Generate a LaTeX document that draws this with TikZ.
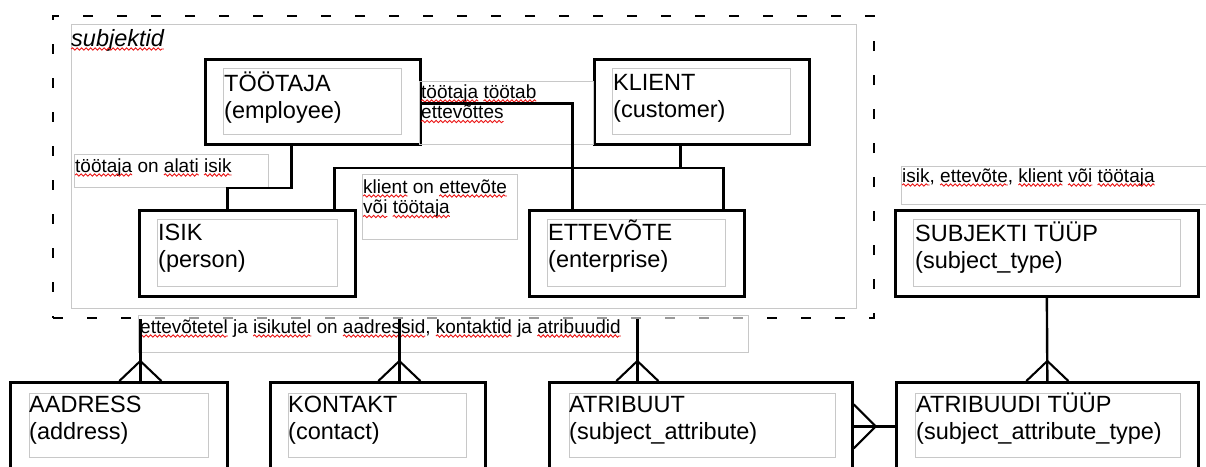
\documentclass[tikz,border=0pt]{standalone}
\usepackage{fontspec}
\setmainfont{Liberation Sans}
\usetikzlibrary{calc,decorations.pathmorphing}
\definecolor{frameGray}{RGB}{200,200,200}
\definecolor{waveRed}{RGB}{235,20,20}
\newcommand\spl[1]{\tikz[baseline=(sw.base)]{\node[inner sep=0pt,outer sep=0pt,anchor=base west] (sw) at (0,0) {#1};\draw[overlay,waveRed,line width=0.9pt,decorate,decoration={snake,segment length=4.5pt,amplitude=1.2pt}] ([yshift=-3pt]sw.base west) -- ([yshift=-3pt]sw.base east);}}
\newcommand\bigfont{\fontsize{23.5}{27.6}\selectfont}
\newcommand\smallfont{\fontsize{19}{20.5}\selectfont}
\tikzset{
  ent/.style={draw=black,line width=2.7pt,anchor=north west,inner sep=0pt},
  frm/.style={draw=frameGray,line width=1pt,anchor=north west,inner sep=0pt},
  etxt/.style={anchor=base west,inner sep=0pt,font=\bigfont,align=left},
  ltxt/.style={anchor=base west,inner sep=0pt,font=\smallfont,align=left},
  link/.style={draw=black,line width=2.4pt},
  crow/.style={draw=black,line width=2.1pt},
  dashbox/.style={draw=black,line width=2.4pt,dash pattern=on 10pt off 24pt,anchor=north west,inner sep=0pt}
}
\begin{document}
\begin{tikzpicture}[x=1pt,y=-1pt]
\useasboundingbox (0,0) rectangle (1206,466);
\clip (0,0) rectangle (1206,466);
\fill[white] (0,0) rectangle (1206,466);

% group frames
\node[frm,minimum width=785pt,minimum height=284pt] (subjF) at (71,24) {};
\node[dashbox,minimum width=821pt,minimum height=302pt] (subj) at (52,15) {};
\node[anchor=base west,inner sep=0pt,font=\bigfont\itshape] (subjlbl) at (71,46) {\spl{subjektid}};

% entities (text anchored at the baseline of the second line)
\node[ent,minimum width=215pt,minimum height=85pt] (tootaja) at (204,58) {};
\node[frm,minimum width=178pt,minimum height=66pt] (tootajaF) at (223,68) {};
\node[etxt] (tootajaT) at (224,118.6) {TÖÖTAJA\\(employee)};

\node[ent,minimum width=215pt,minimum height=85pt] (klient) at (593,58) {};
\node[frm,minimum width=178pt,minimum height=66pt] (klientF) at (612,68) {};
\node[etxt] (klientT) at (613,117.6) {KLIENT\\(customer)};

\node[ent,minimum width=216pt,minimum height=86pt] (isik) at (138,209) {};
\node[frm,minimum width=180pt,minimum height=67pt] (isikF) at (157,219) {};
\node[etxt] (isikT) at (158,267.6) {ISIK\\(person)};

\node[ent,minimum width=215pt,minimum height=86pt] (ettevote) at (528,209) {};
\node[frm,minimum width=178pt,minimum height=67pt] (ettevoteF) at (547,219) {};
\node[etxt] (ettevoteT) at (548,267.6) {ETTEVÕTE\\(enterprise)};

\node[ent,minimum width=303pt,minimum height=86pt] (subjtyyp) at (894,209) {};
\node[frm,minimum width=267pt,minimum height=67pt] (subjtyypF) at (913,219) {};
\node[etxt] (subjtyypT) at (915,268.6) {SUBJEKTI TÜÜP\\(subject\_type)};

\node[ent,minimum width=217pt,minimum height=88pt] (aadress) at (9,381) {};
\node[frm,minimum width=179pt,minimum height=64pt] (aadressF) at (29,393) {};
\node[etxt] (aadressT) at (29,439.6) {AADRESS\\(address)};

\node[ent,minimum width=215pt,minimum height=88pt] (kontakt) at (269,381) {};
\node[frm,minimum width=178pt,minimum height=64pt] (kontaktF) at (288,393) {};
\node[etxt] (kontaktT) at (288,439.6) {KONTAKT\\(contact)};

\node[ent,minimum width=303pt,minimum height=88pt] (atribuut) at (548,381) {};
\node[frm,minimum width=266pt,minimum height=64pt] (atribuutF) at (569,393) {};
\node[etxt] (atribuutT) at (569,439.6) {ATRIBUUT\\(subject\_attribute)};

\node[ent,minimum width=302pt,minimum height=88pt] (atrtyyp) at (895,381) {};
\node[frm,minimum width=265pt,minimum height=64pt] (atrtyypF) at (915,393) {};
\node[etxt] (atrtyypT) at (916,439.6) {ATRIBUUDI TÜÜP\\(subject\_attribute\_type)};

% labels
\node[frm,minimum width=174pt,minimum height=63pt] (l1F) at (419,81) {};
\node[ltxt] (l1) at (421,118.5) {\spl{töötaja} \spl{töötab}\\\spl{ettevõttes}};
\node[frm,minimum width=194pt,minimum height=33pt] (l2F) at (74,154) {};
\node[ltxt] (l2) at (75,172) {\spl{töötaja} on \spl{alati} \spl{isik}};
\node[frm,minimum width=155pt,minimum height=65pt] (l3F) at (362,174) {};
\node[ltxt] (l3) at (363,213.5) {\spl{klient} on \spl{ettevõte}\\\spl{või} \spl{töötaja}};
\node[frm,minimum width=310pt,minimum height=38pt] (l4F) at (901,166) {};
\node[ltxt] (l4) at (902,182) {\spl{isik}, \spl{ettevõte}, \spl{klient} \spl{või} \spl{töötaja}};
\node[frm,minimum width=610pt,minimum height=37pt,fill=white,fill opacity=0.6] (l5F) at (138,315) {};
\node[ltxt] (l5) at (140,333) {\spl{ettevõtetel} ja \spl{isikutel} on \spl{aadressid}, \spl{kontaktid} ja \spl{atribuudid}};

% connectors inside subjektid
\draw[link] ([yshift=-1.5pt]tootaja.east) -| ([xshift=-64.5pt]ettevote.north);
\draw[link] ([xshift=-21.5pt]klient.south) -- ([xshift=-21.5pt,yshift=-22pt]klient.south);
\draw[link] ([xshift=87pt]isik.north) |- ([xshift=-21.5pt,yshift=-22pt]klient.south) -| ([xshift=86.5pt]ettevote.north);
\draw[link] ([xshift=-21.5pt]tootaja.south) |- ([xshift=-20pt,yshift=21pt]isik.north) -- ([xshift=-20pt]isik.north);

% connectors to the lower entities
\coordinate (aTop) at ([xshift=21.5pt]aadress.north);
\coordinate (kTop) at ([xshift=21.5pt]kontakt.north);
\coordinate (rTop) at ([xshift=-63.5pt]atribuut.north);
\coordinate (tTop) at (atrtyyp.north);
\draw[link] (aTop |- subj.south) -- (aTop);
\draw[link] (kTop |- subj.south) -- (kTop);
\draw[link] (rTop |- subj.south) -- (rTop);
\draw[link] (subjtyyp.south) -- (tTop);
\foreach \c in {aTop,kTop,rTop,tTop}{
  \draw[crow] ([xshift=-21pt]\c) -- ([yshift=20pt]\c) -- ([xshift=21pt]\c);
}
\draw[link] (atrtyyp.west) -- (atribuut.east);
\draw[crow] ([yshift=22pt]atribuut.east) -- ([xshift=22pt]atribuut.east) -- ([yshift=-22pt]atribuut.east);
\end{tikzpicture}
\end{document}
